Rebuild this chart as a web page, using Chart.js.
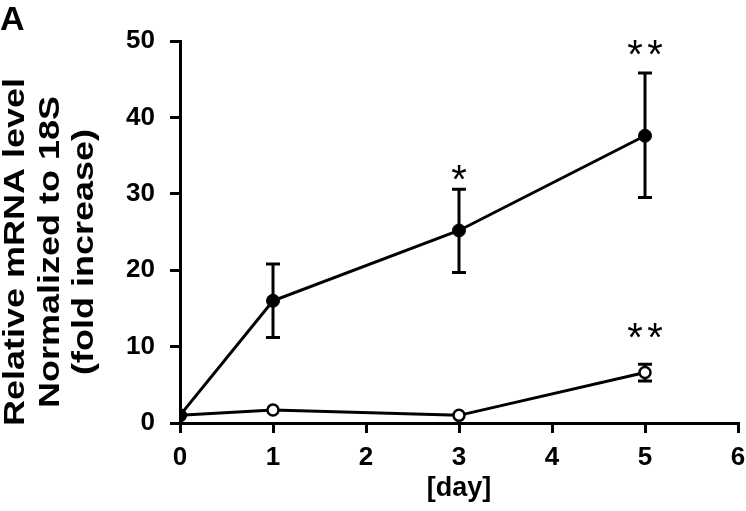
<!DOCTYPE html>
<html lang="en">
<head>
  <meta charset="UTF-8">
  <title>Relative mRNA level</title>
  <script src="https://cdn.jsdelivr.net/npm/chart.js"></script>
  <style>
    body { margin: 0; background: #fff; }
  </style>
</head>
<body>
  <canvas id="mychart" width="746" height="511"></canvas>

  <script type="text/javascript">
    // data
    const days = [0, 1, 3, 5];
    const treated = [1.0, 16.0, 25.2, 37.6];
    const treatedLow = [null, 11.2, 19.7, 29.5];
    const treatedHigh = [null, 20.8, 30.6, 45.8];
    const control = [1.0, 1.7, 1.0, 6.6];
    const controlLow = [null, null, null, 5.5];
    const controlHigh = [null, null, null, 7.7];

    // significance marks: [day, level, text]
    const starDays = [3, 5, 5];
    const starLevels = [32.8, 49.2, 12.2];
    const starTexts = ['*', '**', '**'];

    const xTicks = [0, 1, 2, 3, 4, 5, 6];
    const yTitle = ['Relative mRNA level', 'Normalized to 18S', '(fold increase)'];

    const fontFamily = "'Liberation Sans', Arial, sans-serif";
    Chart.defaults.font.family = fontFamily;
    Chart.defaults.color = '#000';

    function toPoints(values) {
      return days.map((d, i) => ({ x: d, y: values[i] }));
    }

    const errorBars = {
      id: 'errorBars',
      beforeDatasetsDraw(chart) {
        const ctx = chart.ctx;
        const xs = chart.scales.x, ys = chart.scales.y;
        const sets = [[treatedLow, treatedHigh], [controlLow, controlHigh]];
        ctx.save();
        ctx.strokeStyle = '#000';
        ctx.lineWidth = 3;
        sets.forEach(([lo, hi]) => {
          days.forEach((d, i) => {
            if (lo[i] == null) return;
            const px = xs.getPixelForValue(d);
            const y1 = ys.getPixelForValue(lo[i]);
            const y2 = ys.getPixelForValue(hi[i]);
            ctx.beginPath();
            ctx.moveTo(px, y1); ctx.lineTo(px, y2);
            ctx.moveTo(px - 7, y1); ctx.lineTo(px + 7, y1);
            ctx.moveTo(px - 7, y2); ctx.lineTo(px + 7, y2);
            ctx.stroke();
          });
        });
        ctx.restore();
      },
      afterDraw(chart) {
        const ctx = chart.ctx;
        const xs = chart.scales.x, ys = chart.scales.y;
        ctx.save();
        ctx.fillStyle = '#000';
        // stars, one glyph at a time so they sit apart like the original
        ctx.font = "40px " + fontFamily;
        ctx.textAlign = 'center';
        ctx.textBaseline = 'middle';
        starDays.forEach((d, i) => {
          const chars = starTexts[i].split('');
          const cx = xs.getPixelForValue(d);
          const cy = ys.getPixelForValue(starLevels[i]) + 10;
          chars.forEach((c, k) => {
            ctx.fillText(c, cx + (k - (chars.length - 1) / 2) * 20, cy);
          });
        });
        // panel letter
        ctx.font = "bold 34px " + fontFamily;
        ctx.textAlign = 'left';
        ctx.textBaseline = 'alphabetic';
        ctx.fillText('A', 0, 30);
        // y axis title, three lines
        ctx.font = "bold 30px " + fontFamily;
        ctx.textAlign = 'center';
        const baseX = [23.5, 58.5, 93];
        yTitle.forEach((line, i) => {
          ctx.save();
          ctx.translate(baseX[i], 252);
          ctx.rotate(-Math.PI / 2);
          ctx.scale(1.2, 1);
          ctx.fillText(line, 0, 0);
          ctx.restore();
        });
        ctx.restore();
      }
    };

    const data = {
      datasets: [{
        label: 'treated',
        data: toPoints(treated),
        borderColor: '#000',
        backgroundColor: '#000',
        borderWidth: 3,
        pointRadius: 6.5,
        pointBorderWidth: 1,
        pointBackgroundColor: '#000',
        order: 0
      }, {
        label: 'control',
        data: toPoints(control),
        borderColor: '#000',
        backgroundColor: '#fff',
        borderWidth: 3,
        pointRadius: 5.5,
        pointBorderWidth: 2.5,
        pointBackgroundColor: '#fff',
        order: 1
      }]
    };

    const config = {
      type: 'line',
      data: data,
      plugins: [errorBars],
      options: {
        responsive: false,
        animation: false,
        layout: { padding: { top: 41, right: 8, left: 0, bottom: 0 } },
        plugins: {
          legend: { display: false },
          tooltip: { enabled: false }
        },
        scales: {
          x: {
            type: 'linear',
            min: 0,
            max: 6,
            afterFit(scale) {
              scale.height = 88;
              scale.paddingRight = 0;
              scale.paddingLeft = 0;
            },
            afterBuildTicks(scale) { scale.ticks = xTicks.map(v => ({ value: v })); },
            border: { color: '#000', width: 3 },
            grid: { drawOnChartArea: false, drawTicks: true, tickLength: 10, color: '#000', lineWidth: 3 },
            ticks: { padding: 9, maxRotation: 0, font: { size: 26, weight: 'bold' } },
            title: {
              display: true,
              text: '[day]',
              font: { size: 27, weight: 'bold' },
              padding: { top: 0, bottom: 6 }
            }
          },
          y: {
            min: 0,
            max: 50,
            afterFit(scale) {
              scale.width = 180;
              scale.paddingTop = 0;
              scale.paddingBottom = 0;
            },
            border: { color: '#000', width: 3 },
            grid: { drawOnChartArea: false, drawTicks: true, tickLength: 10, color: '#000', lineWidth: 3 },
            ticks: { stepSize: 10, padding: 15, font: { size: 26, weight: 'bold' } }
          }
        }
      }
    };

    new Chart(document.getElementById('mychart'), config);
  </script>
</body>
</html>
